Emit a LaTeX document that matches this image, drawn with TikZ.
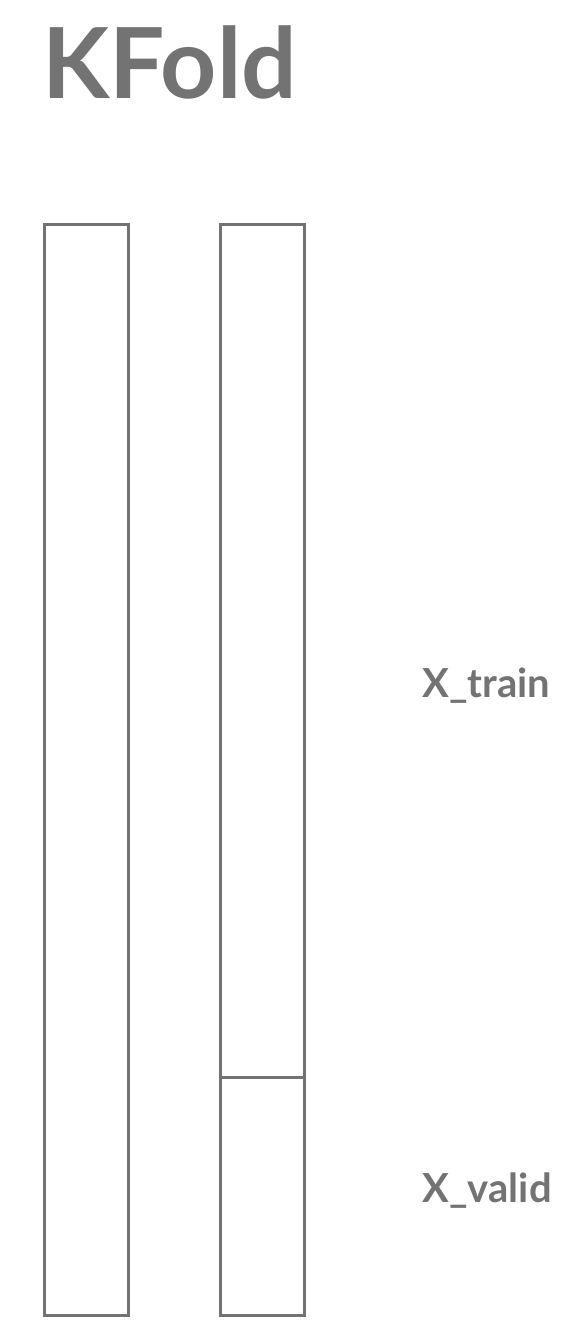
\documentclass[tikz,border=0pt]{standalone}
\usepackage{fontspec}
\setmainfont{Lato}

\definecolor{foldgray}{HTML}{737373}

\begin{document}
\begin{tikzpicture}[
  x=0.5pt, y=-0.5pt,
  line join=miter,
  bar/.style={draw=foldgray, line width=1.5pt},
  title/.style={font=\fontsize{49}{52}\selectfont\bfseries, text=foldgray, inner sep=0pt, anchor=base west},
  label/.style={font=\fontsize{20}{22}\selectfont\bfseries, text=foldgray, inner sep=0pt, anchor=base west},
]
\useasboundingbox (0,0) rectangle (574,1344);

% ── heading ───────────────────────────────────────────────────────────────
\node[title] (kfold) at (42,98) {KFold};

% ── the whole data set, one column ────────────────────────────────────────
\draw[bar] (44,224) rectangle (128,1315);

% ── one fold: training part above, validation part below ──────────────────
\draw[bar] (220,224) rectangle (304,1315);
\draw[bar] (220,1077) -- (305,1077);

\node[label] (xtrain) at (422,697) {X\_train};
\node[label] (xvalid) at (422,1202) {X\_valid};

\end{tikzpicture}
\end{document}
